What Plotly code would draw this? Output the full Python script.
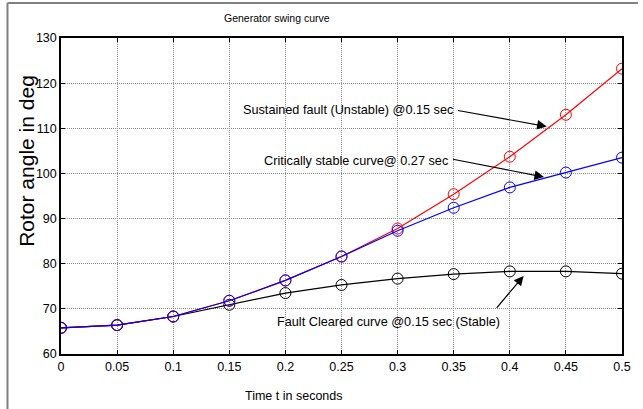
import plotly.graph_objects as go

# ---- data ----
t = [0, 0.05, 0.1, 0.15, 0.2, 0.25, 0.3, 0.35, 0.4, 0.45, 0.5]
sustained = [65.8, 66.4, 68.3, 71.8, 76.3, 81.6, 87.8, 95.4, 103.7, 113.0, 123.2]
critical = [65.8, 66.4, 68.3, 71.8, 76.3, 81.6, 87.3, 92.4, 96.9, 100.2, 103.5]
cleared = [65.8, 66.4, 68.3, 70.9, 73.5, 75.3, 76.7, 77.7, 78.3, 78.3, 77.8]

x_ticks = [0, 0.05, 0.1, 0.15, 0.2, 0.25, 0.3, 0.35, 0.4, 0.45, 0.5]
y_ticks = [60, 70, 80, 90, 100, 110, 120, 130]

title_text = "Generator swing curve"
x_title = "Time t in seconds"
y_title = "Rotor angle in deg"
label_sustained = "Sustained fault (Unstable) @0.15 sec"
label_critical = "Critically stable curve@ 0.27 sec"
label_cleared = "Fault Cleared curve @0.15 sec (Stable)"

FONT = "Liberation Sans, Arial, sans-serif"

W, H = 643, 409
ML, MR, MT, MB = 61, 16, 38, 55
PW, PH = W - ML - MR, H - MT - MB


def px(xp):
    return (xp - ML) / PW


def py(yp):
    return (H - MB - yp) / PH


fig = go.Figure()
marker = dict(symbol="circle-open", size=11, line=dict(width=1))
fig.add_trace(go.Scatter(x=t, y=cleared, mode="lines+markers",
                         line=dict(color="black", width=1.2),
                         marker=dict(color="black", **marker), showlegend=False))
fig.add_trace(go.Scatter(x=t, y=sustained, mode="lines+markers",
                         line=dict(color="#ff0000", width=1.2),
                         marker=dict(color="#ff0000", **marker), showlegend=False))
fig.add_trace(go.Scatter(x=t, y=critical, mode="lines+markers",
                         line=dict(color="#0000ff", width=1.2),
                         marker=dict(color="#0000ff", **marker), showlegend=False))

axis_common = dict(showline=True, linecolor="black", linewidth=1.5, mirror="allticks",
                   ticks="inside", ticklen=4, tickcolor="black",
                   showgrid=True, gridcolor="#8c8c8c", gridwidth=1, griddash="1px,1px",
                   zeroline=False, tickfont=dict(family=FONT, size=12.5, color="black"))

fig.update_xaxes(range=[0, 0.5], tickvals=x_ticks,
                 ticktext=[f"{v:g}" for v in x_ticks], **axis_common)
fig.update_yaxes(range=[60, 130], tickvals=y_ticks,
                 ticktext=[str(v) for v in y_ticks], **axis_common)

ann = []
# title and axis labels
ann.append(dict(text=title_text, xref="paper", yref="paper", x=px(279), y=py(18),
                showarrow=False, font=dict(family=FONT, size=10.5, color="black"),
                xanchor="center", yanchor="middle"))
ann.append(dict(text=x_title, xref="paper", yref="paper", x=px(296), y=py(396),
                showarrow=False, font=dict(family=FONT, size=12.5, color="black"),
                xanchor="center", yanchor="middle"))
ann.append(dict(text=y_title, xref="paper", yref="paper", x=px(25.5), y=py(161),
                showarrow=False, textangle=-90,
                font=dict(family=FONT, size=21, color="black"),
                xanchor="center", yanchor="middle"))

# curve labels
lab_font = dict(family=FONT, size=12.7, color="black")
ann.append(dict(text=label_sustained, x=0.3516, y=114.1, xref="x", yref="y",
                showarrow=False, xanchor="right", yanchor="middle", font=lab_font))
ann.append(dict(text=label_critical, x=0.3472, y=102.8, xref="x", yref="y",
                showarrow=False, xanchor="right", yanchor="middle", font=lab_font))
ann.append(dict(text=label_cleared, x=0.1908, y=67.1, xref="x", yref="y",
                showarrow=False, xanchor="left", yanchor="middle", font=lab_font))

# arrows (tip -> tail)
arrows = [((0.4329, 110.4), (0.3525, 114.0)),
          ((0.4305, 99.2), (0.348, 103.2)),
          ((0.4123, 77.3), (0.3872, 69.9))]
for (tx, ty), (sx, sy) in arrows:
    ann.append(dict(text="", x=tx, y=ty, ax=sx, ay=sy, xref="x", yref="y",
                    axref="x", ayref="y", showarrow=True, arrowhead=2,
                    arrowsize=1.6, arrowwidth=1.2, arrowcolor="black"))

fig.update_layout(
    width=W, height=H,
    margin=dict(l=ML, r=MR, t=MT, b=MB, pad=0),
    paper_bgcolor="white", plot_bgcolor="white",
    annotations=ann,
    shapes=[
        dict(type="line", xref="paper", yref="paper", x0=px(7), x1=px(643),
             y0=py(3), y1=py(3), line=dict(color="#808080", width=2)),
        dict(type="line", xref="paper", yref="paper", x0=px(7), x1=px(7),
             y0=py(3), y1=py(409), line=dict(color="#808080", width=2)),
    ],
)

fig.write_html("out.html")
